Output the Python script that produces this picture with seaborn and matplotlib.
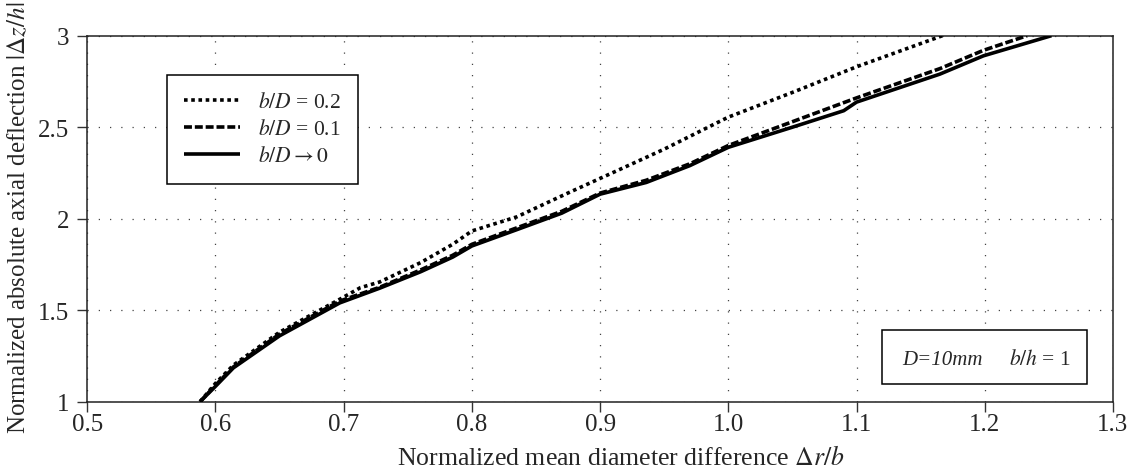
import numpy as np
import pandas as pd
import matplotlib
matplotlib.use("Agg")
import matplotlib.pyplot as plt
import seaborn as sns
from matplotlib.patches import Rectangle

# ---- data ----
x_bd02 = [0.588, 0.600, 0.614, 0.650, 0.697, 0.713, 0.728, 0.760, 0.785, 0.800,
          0.835, 0.877, 0.900, 0.950, 1.000, 1.050, 1.100, 1.167]
y_bd02 = [1.000, 1.100, 1.200, 1.380, 1.560, 1.623, 1.654, 1.760, 1.860, 1.933,
          2.010, 2.147, 2.220, 2.380, 2.555, 2.690, 2.830, 3.000]

x_bd01 = [0.588, 0.600, 0.614, 0.650, 0.697, 0.728, 0.760, 0.785, 0.800, 0.835,
          0.870, 0.900, 0.936, 0.970, 1.000, 1.050, 1.100, 1.165, 1.199, 1.233]
y_bd01 = [1.000, 1.090, 1.190, 1.370, 1.550, 1.625, 1.720, 1.800, 1.860, 1.950,
          2.040, 2.140, 2.210, 2.300, 2.400, 2.530, 2.660, 2.820, 2.920, 3.000]

x_bd0 = [0.588, 0.600, 0.614, 0.650, 0.697, 0.728, 0.760, 0.785, 0.800, 0.835,
         0.870, 0.900, 0.936, 0.970, 1.000, 1.050, 1.090, 1.100, 1.165, 1.199, 1.252]
y_bd0 = [1.000, 1.084, 1.185, 1.360, 1.540, 1.620, 1.710, 1.790, 1.851, 1.940,
         2.030, 2.134, 2.198, 2.290, 2.390, 2.500, 2.590, 2.637, 2.790, 2.890, 3.000]

labels = [r"$b/D$ = 0.2", r"$b/D$ = 0.1", r"$b/D\rightarrow 0$"]
x_ticks = [0.5, 0.6, 0.7, 0.8, 0.9, 1.0, 1.1, 1.2, 1.3]
x_ticklabels = ["0.5", "0.6", "0.7", "0.8", "0.9", "1.0", "1.1", "1.2", "1.3"]
y_ticks = [1, 1.5, 2, 2.5, 3]
y_ticklabels = ["1", "1.5", "2", "2.5", "3"]

# ---- style ----
sns.set_style("ticks")
plt.rcParams["font.family"] = ["Liberation Serif", "DejaVu Serif"]
plt.rcParams["mathtext.fontset"] = "stix"

fig = plt.figure(figsize=(11.29, 4.77), dpi=100)
ax = fig.add_axes([0.0773, 0.1558, 0.9085, 0.7673])

styles = [(0, (1, 1)), (0, (2.2, 0.8)), "-"]
series = [(x_bd02, y_bd02), (x_bd01, y_bd01), (x_bd0, y_bd0)]
for (xs, ys), ls, lab in zip(series, styles, labels):
    sns.lineplot(x=xs, y=ys, ax=ax, color="black", lw=2.6, linestyle=ls,
                 label=lab, solid_capstyle="butt", dash_capstyle="butt",
                 sort=False, zorder=3)

ax.set_xlim(0.5, 1.3)
ax.set_ylim(1, 3)
ax.set_xticks(x_ticks)
ax.set_xticklabels(x_ticklabels)
ax.set_yticks(y_ticks)
ax.set_yticklabels(y_ticklabels)
ax.tick_params(direction="out", length=7, width=1, labelsize=18,
               color="#333333")
ax.tick_params(axis="x", pad=1)
ax.tick_params(axis="y", pad=6)
ax.grid(True, linestyle=(0, (1, 8)), color="#444444", lw=0.9, zorder=0)
for s in ax.spines.values():
    s.set_visible(True)
    s.set_color("#222222")
    s.set_linewidth(1.1)

ax.set_xlabel(r"Normalized mean diameter difference $\Delta r/b$", fontsize=18.5)
ax.set_ylabel(r"Normalized absolute axial deflection $|\Delta z/h|$", fontsize=18)
ax.xaxis.set_label_coords(0.52, -0.118)
ax.yaxis.set_label_coords(-0.056, 0.505)

leg = ax.legend(loc="upper left", bbox_to_anchor=(0.078, 0.893), fontsize=15.5,
                frameon=True, fancybox=False, framealpha=1, edgecolor="black",
                handlelength=2.6, handletextpad=0.8, borderpad=0.8,
                labelspacing=0.33, borderaxespad=0)
leg.get_frame().set_linewidth(1.1)

# annotation box
ax.add_patch(Rectangle((0.7745, 0.0484), 0.1999, 0.1475, transform=ax.transAxes,
                       facecolor="white", edgecolor="black", lw=1.1, zorder=4))
ax.text(0.7943, 0.103, "D=10mm", transform=ax.transAxes, fontsize=15,
        style="italic", ha="left", va="baseline", zorder=5)
ax.text(0.8986, 0.103, r"$b/h$ = 1", transform=ax.transAxes, fontsize=15.5,
        ha="left", va="baseline", zorder=5)

fig.savefig("out.png", dpi=100)
